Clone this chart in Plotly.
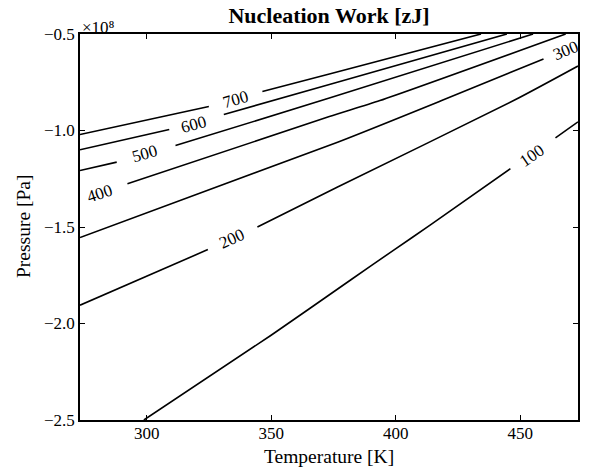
import math
import plotly.graph_objects as go

# ---- data (temperature in K, pressure in 1e8 Pa) ----
T_RANGE = [273.15, 473.15]
P_RANGE = [-2.5, -0.5]

x_ticks = [300, 350, 400, 450]
y_ticks = [-2.5, -2.0, -1.5, -1.0, -0.5]

temp_700 = [273.15, 324.9, None, 346.4, 373.3, 434.2]
pres_700 = [-1.021, -0.876, None, -0.798, -0.707, -0.5]
temp_600 = [273.15, 309.0, None, 330.9, 373.3, 444.6]
pres_600 = [-1.100, -0.995, None, -0.917, -0.762, -0.5]
temp_500 = [273.15, 287.9, None, 311.5, 373.3, 455.1]
pres_500 = [-1.207, -1.164, None, -1.078, -0.832, -0.5]
temp_400 = [292.2, 373.3, 393.6, 468.2]
pres_400 = [-1.276, -0.928, -0.845, -0.5]
temp_300 = [273.15, 376.6, 418.4, 459.3]
pres_300 = [-1.555, -1.061, -0.845, -0.629]
temp_200 = [273.15, 324.5, None, 344.4, 376.6, 447.3, 473.15]
pres_200 = [-1.905, -1.617, None, -1.500, -1.293, -0.845, -0.666]
temp_100 = [298.8, 349.9, 382.1, 399.0, 413.6, 446.0, None, 464.1, 473.15]
pres_100 = [-2.5, -2.061, -1.772, -1.621, -1.492, -1.198, None, -1.038, -0.955]

label_text = ["700", "600", "500", "400", "300", "200", "100"]
label_temp = [335.6, 318.8, 299.4, 281.2, 468.2, 334.3, 454.7]
label_pres = [-0.841, -0.971, -1.121, -1.328, -0.586, -1.560, -1.129]

lines = [
    (temp_700, pres_700), (temp_600, pres_600), (temp_500, pres_500),
    (temp_400, pres_400), (temp_300, pres_300), (temp_200, pres_200),
    (temp_100, pres_100),
]

# ---- layout geometry ----
W, H = 592, 470
ML, MR, MT, MB = 80, 14, 34, 50
plot_w = W - ML - MR
plot_h = H - MT - MB
px_per_x = plot_w / (T_RANGE[1] - T_RANGE[0])
px_per_y = plot_h / (P_RANGE[1] - P_RANGE[0])

FONT = "Liberation Serif"

fig = go.Figure()
for tx, py in lines:
    fig.add_trace(go.Scatter(x=tx, y=py, mode="lines",
                             line=dict(color="black", width=1.6,
                                       shape="spline", smoothing=0.6),
                             showlegend=False, hoverinfo="skip",
                             connectgaps=False))


def label_angle(tx, py, xl):
    pts = list(zip(tx, py))
    for i, (a, b) in enumerate(pts):
        if a is None and 0 < i < len(pts) - 1:
            (x0, y0), (x1, y1) = pts[i - 1], pts[i + 1]
            return -math.degrees(math.atan2((y1 - y0) * px_per_y, (x1 - x0) * px_per_x))
    clean = sorted((a, b) for a, b in pts if a is not None)
    best = None
    for (x0, y0), (x1, y1) in zip(clean[:-1], clean[1:]):
        d = min(abs(x0 - xl), abs(x1 - xl))
        if best is None or d < best[0]:
            best = (d, (x1 - x0) * px_per_x, (y1 - y0) * px_per_y)
    return -math.degrees(math.atan2(best[2], best[1]))


for (tx, py), txt, xl, yl in zip(lines, label_text, label_temp, label_pres):
    fig.add_annotation(x=xl, y=yl, text=txt, showarrow=False,
                       textangle=label_angle(tx, py, xl),
                       font=dict(family=FONT, size=17, color="black"),
                       xanchor="center", yanchor="middle")

# exponent marker and axis titles
fig.add_annotation(xref="paper", yref="paper", x=0, y=1, xanchor="left",
                   yanchor="bottom", yshift=-5, text="×10⁸",
                   showarrow=False, font=dict(family=FONT, size=17, color="black"))
fig.add_annotation(xref="paper", yref="paper", x=0.5, y=0, xanchor="center",
                   yanchor="middle", yshift=-36, text="Temperature [K]",
                   showarrow=False, font=dict(family=FONT, size=19.5, color="black"))
fig.add_annotation(xref="paper", yref="paper", x=0, y=0.5, xanchor="center",
                   yanchor="middle", xshift=-57, text="Pressure [Pa]", textangle=-90,
                   showarrow=False, font=dict(family=FONT, size=19.5, color="black"))

axis_common = dict(showline=True, linecolor="black", linewidth=1.5, mirror="ticks",
                   ticks="inside", ticklen=5, tickwidth=1, tickcolor="black",
                   showgrid=False, zeroline=False, automargin=False,
                   tickfont=dict(family=FONT, size=17, color="black"))

fig.update_layout(
    width=W, height=H,
    margin=dict(l=ML, r=MR, t=MT, b=MB, autoexpand=False),
    paper_bgcolor="white", plot_bgcolor="white",
    title=dict(text="<b>Nucleation Work [zJ]</b>", x=(ML + plot_w / 2) / W,
               xanchor="center", y=1 - 15 / H, yanchor="middle",
               font=dict(family=FONT, size=22, color="black")),
    xaxis=dict(range=T_RANGE, tickvals=x_ticks, ticklabelstandoff=-3, **axis_common),
    yaxis=dict(range=P_RANGE, tickvals=y_ticks, tickformat=".1f", **axis_common),
)

fig.write_html("out.html")
